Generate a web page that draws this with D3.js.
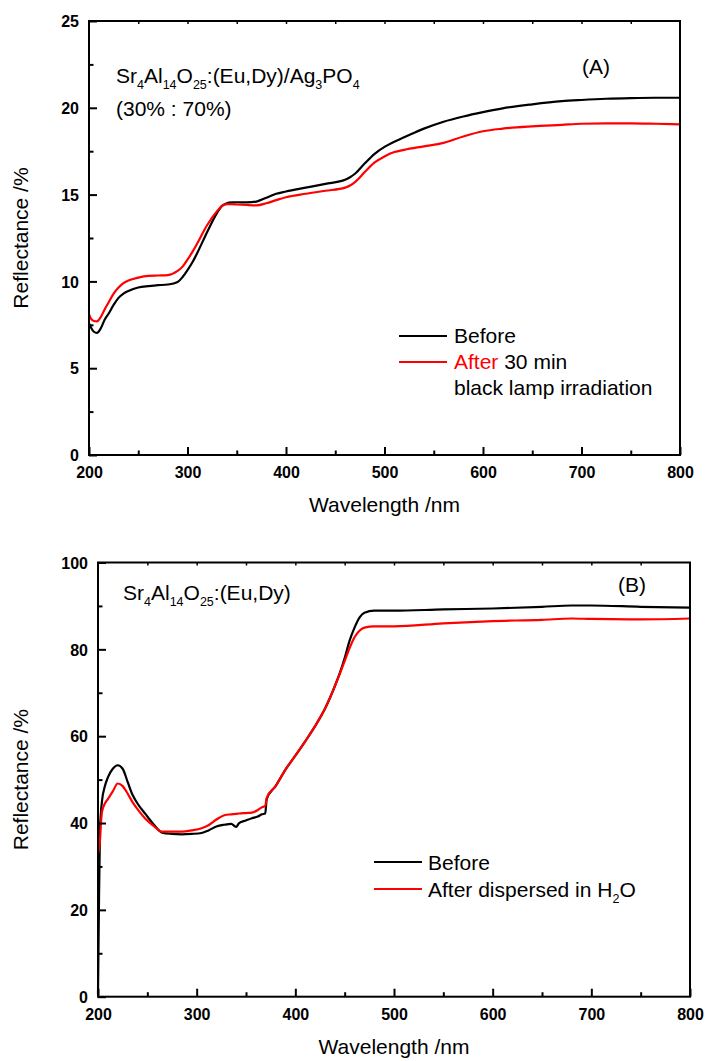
<!DOCTYPE html>
<html>
<head>
<meta charset="utf-8">
<script src="https://cdn.jsdelivr.net/npm/d3@7"></script>
<style>
  body { margin: 0; background: #fff; }
  text { font-family: "Liberation Sans", Arial, sans-serif; }
</style>
</head>
<body>
<script>
// Panel A: Sr4Al14O25:(Eu,Dy)/Ag3PO4 composite
const waveA = [200, 202, 205, 208, 212, 216, 220, 225, 230, 235, 240, 250, 260, 270, 280, 290, 295, 300, 305, 310,
  320, 330, 335, 340, 345, 350, 360, 370, 380, 390, 400, 420, 440, 460, 465, 470, 480, 490, 500, 510,
  520, 540, 560, 580, 600, 620, 650, 680, 700, 725, 750, 775, 800];
const beforeA = [7.6, 7.35, 7.1, 7.03, 7.3, 7.8, 8.15, 8.65, 9.05, 9.3, 9.45, 9.65, 9.73, 9.78, 9.82, 9.97, 10.25, 10.65, 11.1, 11.65,
  12.85, 13.95, 14.35, 14.5, 14.55, 14.56, 14.55, 14.6, 14.82, 15.05, 15.18, 15.4, 15.62, 15.85, 16.0, 16.2, 16.8, 17.35, 17.75, 18.05,
  18.3, 18.8, 19.2, 19.5, 19.75, 19.97, 20.2, 20.38, 20.45, 20.52, 20.56, 20.58, 20.58];
const afterA = [8.1, 7.85, 7.72, 7.7, 7.95, 8.4, 8.8, 9.3, 9.65, 9.9, 10.05, 10.22, 10.32, 10.34, 10.36, 10.6, 10.85, 11.25, 11.7, 12.2,
  13.25, 14.05, 14.35, 14.45, 14.45, 14.43, 14.4, 14.38, 14.5, 14.68, 14.85, 15.05, 15.22, 15.4, 15.52, 15.72, 16.3, 16.85, 17.2, 17.45,
  17.58, 17.78, 17.98, 18.35, 18.65, 18.8, 18.93, 19.02, 19.08, 19.1, 19.1, 19.08, 19.05];

// Panel B: Sr4Al14O25:(Eu,Dy)
const waveB = [200, 201, 202, 203, 204, 207, 210, 215, 220, 225, 230, 235, 240, 248, 256, 265, 275, 285, 295, 305,
  312, 320, 328, 335, 340, 343, 350, 356, 362, 366, 369.5, 371, 380, 390, 400, 410, 420, 430, 440, 445,
  450, 455, 460, 465, 470, 480, 500, 550, 600, 650, 680, 700, 750, 800];
const beforeB = [0.5, 22, 38, 42.5, 45, 48.5, 50.5, 52.5, 53.3, 52.5, 49.5, 46.5, 44.5, 42.1, 39.8, 37.8, 37.5, 37.4, 37.5, 37.7,
  38.3, 39.2, 39.6, 39.8, 39.1, 40.0, 40.6, 41.1, 41.5, 42.0, 42.2, 45.5, 48.5, 52.3, 55.5, 58.8, 62.3, 66.3, 71.5, 74.5,
  78, 82, 85, 87.3, 88.4, 88.9, 88.9, 89.2, 89.4, 89.8, 90.1, 90.1, 89.8, 89.6];
const afterB = [33, 34, 36, 40, 42.5, 44.5, 45.5, 47.3, 49.1, 48.5, 46.8, 44.8, 43.2, 41.0, 39.4, 38.0, 38.0, 38.0, 38.3, 38.8,
  39.5, 40.8, 41.8, 42.0, 42.1, 42.2, 42.3, 42.4, 43.0, 43.6, 44.0, 45.8, 48.5, 52.3, 55.5, 58.8, 62.3, 66.3, 71.5, 74.3,
  77.3, 80.3, 82.8, 84.3, 85.0, 85.3, 85.3, 86.0, 86.5, 86.8, 87.1, 87.0, 86.9, 87.1];

const xTicks = [200, 300, 400, 500, 600, 700, 800];

const W = 705, H = 1061;
const svg = d3.select("body").append("svg").attr("width", W).attr("height", H);

function panel(opt) {
  const x = d3.scaleLinear().domain([200, 800]).range([opt.left, opt.right]);
  const y = d3.scaleLinear().domain([0, opt.ymax]).range([opt.bottom, opt.top]);
  const g = svg.append("g");

  // curves: black first, red on top
  const line = d3.line().x(d => x(d[0])).y(d => y(d[1])).curve(d3.curveMonotoneX);
  g.append("path").datum(opt.wave.map((w, i) => [w, opt.before[i]]))
    .attr("d", line).attr("fill", "none").attr("stroke", "#000").attr("stroke-width", 2.2);
  g.append("path").datum(opt.wave.map((w, i) => [w, opt.after[i]]))
    .attr("d", line).attr("fill", "none").attr("stroke", "#f00").attr("stroke-width", 2.2);

  // frame
  g.append("rect").attr("x", opt.left).attr("y", opt.top)
    .attr("width", opt.right - opt.left).attr("height", opt.bottom - opt.top)
    .attr("fill", "none").attr("stroke", "#000").attr("stroke-width", 2);

  // bottom axis, ticks inward
  const xAx = g.append("g").attr("transform", `translate(0,${opt.bottom})`)
    .call(d3.axisBottom(x).tickValues(xTicks).tickSize(-8).tickPadding(0).tickFormat(d3.format("d")));
  xAx.attr("font-size", 16).attr("font-family", null);
  xAx.select(".domain").remove();
  xAx.selectAll("line").attr("stroke-width", 2);
  xAx.selectAll("text").attr("y", 23).attr("dy", 0)
    .style("font-size", "16px").style("font-weight", "bold");
  g.append("g").attr("transform", `translate(0,${opt.bottom})`)
    .call(d3.axisBottom(x).tickValues(d3.range(250, 800, 100)).tickSize(-4.5).tickFormat(""))
    .call(a => a.select(".domain").remove())
    .call(a => a.selectAll("text").remove())
    .selectAll("line").attr("stroke-width", 2);
  // top mirror ticks
  g.append("g").attr("transform", `translate(0,${opt.top})`)
    .call(d3.axisTop(x).tickValues(d3.range(250, 800, 50)).tickSize(-3).tickFormat(""))
    .call(a => a.select(".domain").remove())
    .call(a => a.selectAll("text").remove())
    .selectAll("line").attr("stroke-width", 1.5);

  // left axis
  const yAx = g.append("g").attr("transform", `translate(${opt.left},0)`)
    .call(d3.axisLeft(y).tickValues(opt.yTicks).tickSize(-8).tickPadding(0));
  yAx.attr("font-size", 16).attr("font-family", null);
  yAx.select(".domain").remove();
  yAx.selectAll("line").attr("stroke-width", 2);
  yAx.selectAll("text").attr("x", -10).attr("dy", "0.36em")
    .style("font-size", "16px").style("font-weight", "bold");
  g.append("g").attr("transform", `translate(${opt.left},0)`)
    .call(d3.axisLeft(y).tickValues(opt.yMinor).tickSize(-4.5).tickFormat(""))
    .call(a => a.select(".domain").remove())
    .call(a => a.selectAll("text").remove())
    .selectAll("line").attr("stroke-width", 2);

  // axis titles
  g.append("text").attr("x", (opt.left + opt.right) / 2).attr("y", opt.bottom + 57)
    .attr("text-anchor", "middle").attr("font-size", 21).text("Wavelength /nm");
  g.append("text").attr("transform", `translate(28,${(opt.top + opt.bottom) / 2}) rotate(-90)`)
    .attr("text-anchor", "middle").attr("font-size", 21).text("Reflectance /%");

  return { g, x, y };
}

// text with subscripts: the tspan after a subscript shifts back up
function formula(g, xPos, yPos, parts) {
  const t = g.append("text").attr("x", xPos).attr("y", yPos).attr("font-size", 21);
  let shifted = false;
  parts.forEach(p => {
    if (p.sub) {
      t.append("tspan").attr("font-size", 12.5).attr("dy", 6).text(p.sub);
      shifted = true;
    } else {
      const s = t.append("tspan").text(p.t);
      if (shifted) { s.attr("dy", -6); shifted = false; }
    }
  });
  return t;
}

// ---- Panel A ----
const A = panel({
  left: 89, right: 680, top: 21, bottom: 455, ymax: 25,
  yTicks: [0, 5, 10, 15, 20, 25], yMinor: [2.5, 7.5, 12.5, 17.5, 22.5],
  wave: waveA, before: beforeA, after: afterA
});
formula(A.g, 116, 83, [{t: "Sr"}, {sub: "4"}, {t: "Al"}, {sub: "14"}, {t: "O"}, {sub: "25"},
  {t: ":(Eu,Dy)/Ag"}, {sub: "3"}, {t: "PO"}, {sub: "4"}]);
A.g.append("text").attr("x", 116).attr("y", 116).attr("font-size", 21).text("(30% : 70%)");
A.g.append("text").attr("x", 582).attr("y", 74).attr("font-size", 21).text("(A)");

// legend A
A.g.append("line").attr("x1", 399).attr("x2", 447).attr("y1", 336).attr("y2", 336)
  .attr("stroke", "#000").attr("stroke-width", 2);
A.g.append("text").attr("x", 454).attr("y", 343).attr("font-size", 21).text("Before");
A.g.append("line").attr("x1", 399).attr("x2", 447).attr("y1", 362).attr("y2", 362)
  .attr("stroke", "#f00").attr("stroke-width", 2);
const la = A.g.append("text").attr("x", 454).attr("y", 369).attr("font-size", 21);
la.append("tspan").attr("fill", "#f00").text("After");
la.append("tspan").text(" 30 min");
A.g.append("text").attr("x", 454).attr("y", 395).attr("font-size", 21).text("black lamp irradiation");

// ---- Panel B ----
const B = panel({
  left: 98, right: 690, top: 562.5, bottom: 996.7, ymax: 100,
  yTicks: [0, 20, 40, 60, 80, 100], yMinor: [10, 30, 50, 70, 90],
  wave: waveB, before: beforeB, after: afterB
});
formula(B.g, 123, 600, [{t: "Sr"}, {sub: "4"}, {t: "Al"}, {sub: "14"}, {t: "O"}, {sub: "25"}, {t: ":(Eu,Dy)"}]);
B.g.append("text").attr("x", 618).attr("y", 592).attr("font-size", 21).text("(B)");

// legend B
B.g.append("line").attr("x1", 374).attr("x2", 422).attr("y1", 862).attr("y2", 862)
  .attr("stroke", "#000").attr("stroke-width", 2);
B.g.append("text").attr("x", 428).attr("y", 870).attr("font-size", 21).text("Before");
B.g.append("line").attr("x1", 374).attr("x2", 422).attr("y1", 889).attr("y2", 889)
  .attr("stroke", "#f00").attr("stroke-width", 2);
formula(B.g, 428, 897, [{t: "After dispersed in H"}, {sub: "2"}, {t: "O"}]);
</script>
</body>
</html>
